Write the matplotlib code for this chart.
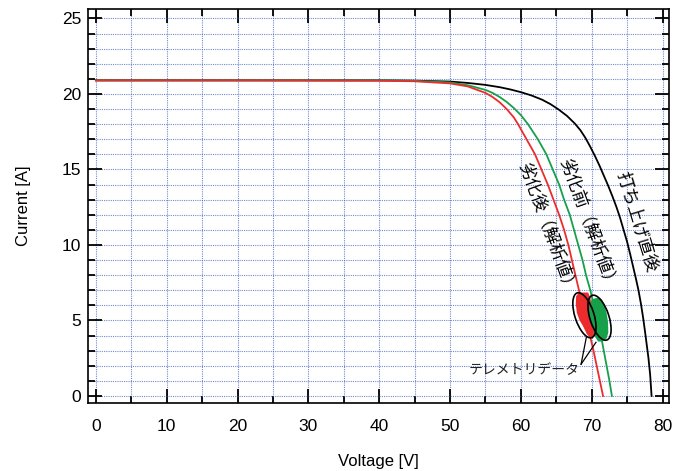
import matplotlib.pyplot as plt
import matplotlib.transforms as mtransforms
from matplotlib.patches import Ellipse
from matplotlib.ticker import MultipleLocator

plt.rcParams['font.family'] = ['Liberation Sans', 'Noto Sans CJK JP', 'DejaVu Sans']

# I-V curves (voltage [V], current [A])
v_launch = [0, 20, 40, 45, 50, 52.5, 55, 57, 58.5, 60, 61.5, 63, 64.2, 65.3, 66.5,
            67.6, 68.4, 69.1, 69.8, 70.5, 71.1, 71.7, 72.3, 72.9, 73.5, 74.0,
            74.5, 75.0, 75.45, 75.85, 76.25, 76.6, 76.95, 77.25, 77.5, 77.75,
            78.0, 78.25, 78.45]
i_launch = [20.9, 20.9, 20.9, 20.88, 20.82, 20.73, 20.6, 20.45, 20.3, 20.12, 19.9,
            19.62, 19.32, 18.98, 18.55, 18.05, 17.6, 17.1, 16.5, 15.85, 15.25,
            14.6, 13.95, 13.25, 12.5, 11.8, 11.0, 10.2, 9.35, 8.55, 7.75, 7.0,
            6.1, 5.2, 4.35, 3.45, 2.55, 1.4, 0.0]

v_before = [0, 20, 40, 45, 50, 52.5, 55, 56, 57, 58, 59, 60, 61, 61.7, 62.4, 63.0,
            63.6, 64.5, 65.4, 66.1, 66.9, 67.5, 68.1, 68.7, 69.2, 69.8, 70.3,
            70.8, 71.3, 71.7, 72.1, 72.5, 72.85]
i_before = [20.9, 20.9, 20.9, 20.87, 20.76, 20.58, 20.27, 20.07, 19.8, 19.47, 19.07,
            18.6, 18.0, 17.5, 17.0, 16.5, 16.0, 15.0, 14.0, 13.0, 12.0, 11.0, 10.0,
            9.0, 8.0, 7.0, 6.0, 5.0, 4.0, 3.0, 2.0, 1.0, 0.0]

v_after = [0, 20, 40, 45, 50, 52.5, 55, 56, 57, 58, 59, 59.6, 60.2, 60.8, 61.4,
           62.0, 62.9, 63.8, 64.6, 65.4, 66.1, 66.7, 67.2, 67.7, 68.2, 68.75,
           69.25, 69.75, 70.25, 70.7, 71.15, 71.6]
i_after = [20.9, 20.9, 20.88, 20.84, 20.7, 20.5, 20.07, 19.8, 19.45, 19.0, 18.45,
           18.0, 17.5, 17.0, 16.5, 16.0, 15.0, 14.0, 13.0, 12.0, 11.0, 10.0, 9.0,
           8.0, 7.0, 6.0, 5.0, 4.0, 3.0, 2.0, 1.0, 0.0]

# telemetry data clouds (outline, voltage / current)
tlm_after_v = [67.8, 68.2, 69.5, 69.8, 70.0, 70.2, 70.35, 70.3, 69.8, 69.3, 68.8,
               68.3, 67.9, 67.75]
tlm_after_i = [6.6, 6.85, 6.85, 6.5, 6.0, 5.3, 4.6, 4.0, 3.85, 4.1, 4.6, 5.0, 5.5, 6.1]
tlm_before_v = [69.7, 70.0, 70.8, 71.4, 71.8, 72.1, 72.3, 72.35, 72.1, 71.5, 70.9,
                70.5, 70.2, 69.8, 69.6]
tlm_before_i = [6.0, 6.4, 6.5, 6.4, 6.0, 5.5, 4.9, 4.2, 3.8, 3.6, 3.6, 3.9, 4.4,
                5.0, 5.5]

label_launch = '打ち上げ直後'
label_before = '劣化前（解析値）'
label_after = '劣化後（解析値）'
label_tlm = 'テレメトリデータ'

RED = '#ec2c2c'
GREEN = '#16a04a'

fig = plt.figure(figsize=(6.75, 4.71), dpi=100)
ax = fig.add_axes([0.131, 0.145, 0.86, 0.835])

ax.fill(tlm_after_v, tlm_after_i, color=RED, lw=0, zorder=2)
ax.fill(tlm_before_v, tlm_before_i, color=GREEN, lw=0, zorder=2)

ax.plot(v_launch, i_launch, color='black', lw=1.3, zorder=3)
ax.plot(v_before, i_before, color=GREEN, lw=1.3, zorder=3)
ax.plot(v_after, i_after, color=RED, lw=1.3, zorder=3)

# ellipses around the telemetry clouds, sized in inches
for cx, cy in [(68.97, 5.34), (71.1, 5.18)]:
    tr = fig.dpi_scale_trans + mtransforms.ScaledTranslation(cx, cy, ax.transData)
    ax.add_patch(Ellipse((0, 0), 0.19, 0.47, angle=18, transform=tr,
                         fill=False, ec='black', lw=1.2, zorder=4))

ax.text(60.4, 1.7, label_tlm, fontsize=10, ha='center', va='center',
        family=['Noto Sans CJK JP'], color='#222222')
ax.plot([68.5, 69.25], [2.1, 3.9], color='black', lw=0.9, zorder=4)
ax.plot([68.5, 70.6], [2.1, 3.55], color='black', lw=0.9, zorder=4)

txt = dict(fontsize=12.5, ha='center', va='center', rotation_mode='anchor',
           family=['Noto Sans CJK JP'])
ax.text(63.7, 11.1, label_after, rotation=-70, **txt)
ax.text(69.5, 11.4, label_before, rotation=-70, **txt)
ax.text(76.3, 11.5, label_launch, rotation=-73, **txt)

ax.set_xlim(-1.05, 80.9)
ax.set_ylim(-0.45, 25.6)
ax.xaxis.set_major_locator(MultipleLocator(10))
ax.xaxis.set_minor_locator(MultipleLocator(5))
ax.yaxis.set_major_locator(MultipleLocator(5))
ax.yaxis.set_minor_locator(MultipleLocator(1))

ax.grid(True, which='both', color='#3f5cc0', linestyle=(0, (1, 1)), lw=0.8, alpha=0.72)
ax.set_axisbelow(True)
ax.tick_params(which='both', direction='in', top=True, right=True, width=1.3,
               labelsize=12.5, color='black')
ax.tick_params(which='major', length=10)
ax.tick_params(which='minor', length=5)
ax.tick_params(axis='x', pad=12)
ax.tick_params(axis='y', pad=5)
for s in ax.spines.values():
    s.set_linewidth(1.2)

ax.set_xlabel('Voltage [V]', fontsize=12, labelpad=14)
ax.set_ylabel('Current [A]', fontsize=12, labelpad=22)

fig.savefig('out.png', dpi=100)
